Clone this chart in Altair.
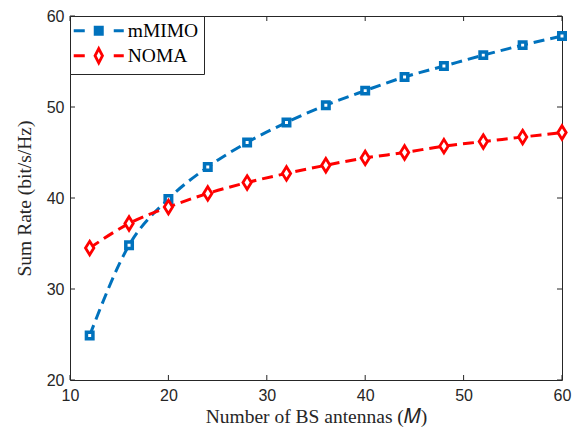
import altair as alt
import pandas as pd

antennas = [12, 16, 20, 24, 28, 32, 36, 40, 44, 48, 52, 56, 60]
mmimo = [24.9, 34.8, 39.9, 43.4, 46.1, 48.3, 50.2, 51.8, 53.3, 54.5, 55.7, 56.8, 57.8]
noma = [34.5, 37.2, 39.0, 40.5, 41.7, 42.7, 43.6, 44.4, 45.0, 45.7, 46.2, 46.7, 47.2]
series_names = ["mMIMO", "NOMA"]
x_ticks = [10, 20, 30, 40, 50, 60]
y_ticks = [20, 30, 40, 50, 60]

BLUE = "#0072BD"
RED = "#FF0000"
AX = "#262626"
W, H = 492, 364

df = pd.DataFrame({
    "M": antennas * 2,
    "rate": mmimo + noma,
    "series": ["mMIMO"] * len(antennas) + ["NOMA"] * len(antennas),
})
xt = pd.DataFrame({"v": x_ticks})
yt = pd.DataFrame({"v": y_ticks})

xscale = alt.Scale(domain=[10, 60], nice=False, zero=False)
yscale = alt.Scale(domain=[20, 60], nice=False, zero=False)

x_enc = alt.X("M:Q", scale=xscale,
              axis=alt.Axis(values=x_ticks, ticks=False, domain=False, grid=False,
                            labelFlush=False,
                            labelFont="Liberation Sans", labelFontSize=16, labelColor=AX,
                            labelPadding=7, title="Number of BS antennas (𝑀)",
                            titleFont="Liberation Serif", titleFontSize=19.5,
                            titleFontWeight="normal", titleColor=AX, titlePadding=4))
y_enc = alt.Y("rate:Q", scale=yscale,
              axis=alt.Axis(values=y_ticks, ticks=False, domain=False, grid=False,
                            labelFlush=False,
                            labelFont="Liberation Sans", labelFontSize=16, labelColor=AX,
                            labelPadding=6, title="Sum Rate (bit/s/Hz)",
                            titleFont="Liberation Serif", titleFontSize=19.5,
                            titleFontWeight="normal", titleColor=AX, titlePadding=12))

base = alt.Chart(df)

line_mm = base.transform_filter(alt.datum.series == "mMIMO").mark_line(
    strokeWidth=3, strokeDash=[11, 6], interpolate="monotone", color=BLUE
).encode(x=x_enc, y=y_enc)
line_no = base.transform_filter(alt.datum.series == "NOMA").mark_line(
    strokeWidth=3, strokeDash=[11, 6], interpolate="monotone", color=RED
).encode(x="M:Q", y="rate:Q")

sq = base.transform_filter(alt.datum.series == "mMIMO").mark_point(
    shape="square", size=42, strokeWidth=3.5, color=BLUE, fill="white", filled=False,
    fillOpacity=1, opacity=1
).encode(x="M:Q", y="rate:Q")

dia = base.transform_filter(alt.datum.series == "NOMA").mark_point(
    shape="M0,-1L0.62,0L0,1L-0.62,0Z", size=182, strokeWidth=2.8, color=RED, fill="white",
    filled=False, fillOpacity=1, opacity=1
).encode(x="M:Q", y="rate:Q")

sq_path = "M-4.17,0L-2.33,0M2.5,0L4.17,0M-0.6,-0.6L0.6,-0.6L0.6,0.6L-0.6,0.6Z"
dia_path = "M-4.17,0L-2.33,0M2.5,0L4.17,0M0,-1.2L0.62,0L0,1.2L-0.62,0Z"

leg = alt.Legend(title=None, orient="top-left", offset=0)
legend_layer = base.mark_point(opacity=0, strokeWidth=2.5).encode(
    x="M:Q", y="rate:Q",
    fill=alt.Fill("series:N", scale=alt.Scale(domain=series_names, range=[BLUE, "white"]), legend=leg),
    stroke=alt.Stroke("series:N", scale=alt.Scale(domain=series_names, range=[BLUE, RED]), legend=leg),
    shape=alt.Shape("series:N", scale=alt.Scale(domain=series_names, range=[sq_path, dia_path]), legend=leg),
)

tick_color = AX
bt = alt.Chart(xt).mark_rule(color=tick_color, strokeWidth=1).encode(
    x=alt.X("v:Q", scale=xscale), y=alt.value(H), y2=alt.value(H - 5))
tt = alt.Chart(xt).mark_rule(color=tick_color, strokeWidth=1).encode(
    x=alt.X("v:Q", scale=xscale), y=alt.value(0), y2=alt.value(5))
lt = alt.Chart(yt).mark_rule(color=tick_color, strokeWidth=1).encode(
    y=alt.Y("v:Q", scale=yscale), x=alt.value(0), x2=alt.value(5))
rt = alt.Chart(yt).mark_rule(color=tick_color, strokeWidth=1).encode(
    y=alt.Y("v:Q", scale=yscale), x=alt.value(W), x2=alt.value(W - 5))

chart = alt.layer(line_mm, bt, tt, lt, rt, line_no, sq, dia, legend_layer).properties(
    width=W, height=H,
    autosize=alt.AutoSizeParams(type="none"),
    padding={"left": 62, "top": 8, "right": 17, "bottom": 51},
).configure_view(stroke=AX, strokeWidth=1).configure_legend(
    padding=5, strokeColor=AX, fillColor="white", cornerRadius=0,
    labelFont="Liberation Serif", labelFontSize=19.5, labelColor="black",
    symbolSize=144, symbolStrokeWidth=2.8, symbolOpacity=1,
    symbolOffset=14, labelOffset=19.25, rowPadding=1,
).configure_axis(labelFontWeight="normal")

chart.save("out.html", embed_options={"renderer": "svg", "actions": False})
